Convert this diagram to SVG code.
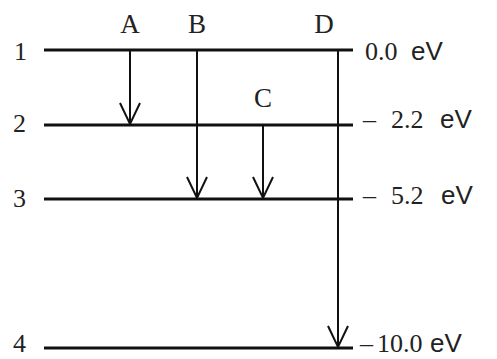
<svg xmlns="http://www.w3.org/2000/svg" width="497" height="359" viewBox="0 0 497 359">
<style>
.lvl{stroke:#111;stroke-width:3;fill:none}
.arr{stroke:#111;stroke-width:2;fill:none;marker-end:url(#v)}
.serif{font-family:"Liberation Serif","Times New Roman",serif;font-size:26px;fill:#222}
.sans{font-family:"Liberation Sans",Arial,sans-serif;font-size:26px;fill:#222}
.let{font-family:"Liberation Serif","Times New Roman",serif;font-size:27px;fill:#222;text-anchor:middle}
</style>
<defs>
<marker id="v" markerUnits="userSpaceOnUse" markerWidth="30" markerHeight="30" viewBox="-25 -15 30 30" refX="0" refY="0" orient="auto">
<path d="M-21,-10 L0,0 L-21,10" fill="none" stroke="#111" stroke-width="2"/>
</marker>
</defs>
<rect width="497" height="359" fill="#fff"/>
<g id="level1">
<line class="lvl" x1="44" y1="50" x2="353" y2="50"/>
<text class="serif" x="14" y="60">1</text>
<text class="serif" y="60"><tspan x="365">0.0</tspan><tspan class="sans" x="411">eV</tspan></text>
</g>
<g id="level2">
<line class="lvl" x1="44" y1="125" x2="353" y2="125"/>
<text class="serif" x="13" y="132">2</text>
<text class="serif" y="128"><tspan x="363">–</tspan><tspan x="391">2.2</tspan><tspan class="sans" x="440">eV</tspan></text>
</g>
<g id="level3">
<line class="lvl" x1="44" y1="199" x2="353" y2="199"/>
<text class="serif" x="13" y="207">3</text>
<text class="serif" y="204"><tspan x="363">–</tspan><tspan x="391">5.2</tspan><tspan class="sans" x="441">eV</tspan></text>
</g>
<g id="level4">
<line class="lvl" x1="44" y1="348" x2="353" y2="348"/>
<text class="serif" x="13" y="352">4</text>
<text class="serif" y="352"><tspan x="360">–</tspan><tspan x="377">10.0</tspan><tspan class="sans" x="430">eV</tspan></text>
</g>
<g id="labels">
<text class="let" x="130" y="33">A</text>
<text class="let" x="197" y="33">B</text>
<text class="let" x="263" y="107">C</text>
<text class="let" x="324" y="33">D</text>
</g>
<g id="connectors">
<line class="arr" x1="130" y1="50" x2="130" y2="124"/>
<line class="arr" x1="197" y1="50" x2="197" y2="198"/>
<line class="arr" x1="263" y1="125" x2="263" y2="198"/>
<line class="arr" x1="338" y1="50" x2="338" y2="347"/>
</g>
</svg>
